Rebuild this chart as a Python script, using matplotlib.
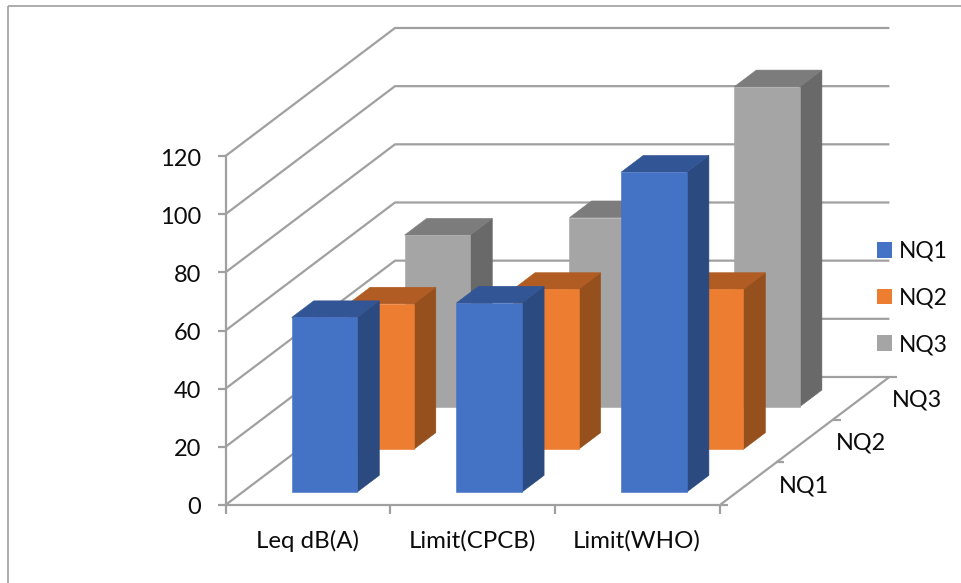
import matplotlib
matplotlib.use("Agg")
import matplotlib.pyplot as plt
from matplotlib.patches import Polygon, Patch, Rectangle
from matplotlib.transforms import Affine2D

plt.rcParams['font.family'] = ['Lato', 'DejaVu Sans']

categories = ['Leq dB(A)', 'Limit(CPCB)', 'Limit(WHO)']
series = ['NQ1', 'NQ2', 'NQ3']
nq1 = [60, 65, 110]
nq2 = [50, 55, 55]
nq3 = [59, 65, 110]
values = [nq1, nq2, nq3]
yticks = [0, 20, 40, 60, 80, 100, 120]

face = ['#4472C4', '#ED7D31', '#A5A5A5']
side = ['#2B4A80', '#95501D', '#696969']
top = ['#325595', '#B15C22', '#7C7C7C']
axis_c = '#A0A0A0'
text_c = '#0C0C0C'

W, H = 961, 583
fig = plt.figure(figsize=(W / 100, H / 100), dpi=100)
ax = fig.add_axes([0, 0, 1, 1])
ax.set_xlim(0, W)
ax.set_ylim(H, 0)
ax.axis('off')

# oblique projection: (category, value, depth slot) -> figure pixels
X0, Y0 = 225.5, 505.0
CAT_W = 164.8
VAL_K = 349 / 120
SLOT_DX, SLOT_DY = 56.5, 42.67
proj = Affine2D.from_values(CAT_W, 0, SLOT_DX, -SLOT_DY, X0, Y0)  # (cat, depth)


def P(c, v, d):
    x, y = proj.transform((c, d))
    return (x, y - v * VAL_K)


def line(pts, z=1, lw=1.6):
    xs, ys = zip(*pts)
    ax.plot(xs, ys, color=axis_c, lw=lw, zorder=z, solid_capstyle='butt', solid_joinstyle='miter')


n_cat, n_ser = len(categories), len(series)

# outer frame
ax.add_patch(Rectangle((8, 6.2), 1000, 1000, fill=False, ec='#A6A6A6', lw=1.3, zorder=0))

# walls
for v in yticks:
    line([P(0, v, 0), P(0, v, n_ser), P(n_cat, v, n_ser)])
line([P(0, 0, 0), P(0, yticks[-1], 0)])
line([P(0, 0, 0), P(n_cat, 0, 0), P(n_cat, 0, n_ser)])

# ticks
for v in yticks:
    a = P(0, v, 0)
    line([(a[0] - 8, a[1]), a])
    ax.text(a[0] - 24, a[1] + 3, str(v), ha='right', va='center', fontsize=17, color=text_c)
for c in range(n_cat + 1):
    a = P(c, 0, 0)
    line([a, (a[0], a[1] + 9)])
for c, name in enumerate(categories):
    a = P(c + 0.5, 0, 0)
    ax.text(a[0] - 0.5, a[1] + 36, name, ha='center', va='center', fontsize=17.3, color=text_c)
for d in range(n_ser + 1):
    a = P(n_cat, 0, d)
    line([a, (a[0] + 8, a[1])])
for d, name in enumerate(series):
    a = P(n_cat, 0, d + 0.5)
    ax.text(a[0] + 31, a[1] + 2, name, ha='left', va='center', fontsize=16.8, color=text_c)

# bars, back to front
BAR_W, BAR_D = 0.398, 0.39
for s in reversed(range(n_ser)):
    for c in range(n_cat):
        v = values[s][c]
        c0 = c + 0.5 - BAR_W / 2 - 0.004
        c1 = c0 + BAR_W
        d0 = s + 0.5 - BAR_D / 2
        d1 = d0 + BAR_D
        z = 5 + (n_ser - s)
        for poly, col in [
            ([P(c1, 0, d0), P(c1, v, d0), P(c1, v, d1), P(c1, 0, d1)], side[s]),
            ([P(c0, v, d0), P(c1, v, d0), P(c1, v, d1), P(c0, v, d1)], top[s]),
            ([P(c0, 0, d0), P(c1, 0, d0), P(c1, v, d0), P(c0, v, d0)], face[s]),
        ]:
            ax.add_patch(Polygon(poly, closed=True, fc=col, ec=col, lw=0.4, zorder=z))

# legend
handles = [Patch(fc=face[i], ec='none', label=series[i]) for i in range(n_ser)]
leg = ax.legend(handles=handles, loc='center left', bbox_to_anchor=(877 / W, 1 - 298 / H),
                frameon=False, fontsize=16.4, handlelength=0.66, handleheight=0.66,
                handletextpad=0.32, labelspacing=1.12, borderpad=0, borderaxespad=0,
                labelcolor=text_c)
leg.set_zorder(20)

fig.savefig('out.png', dpi=100)
